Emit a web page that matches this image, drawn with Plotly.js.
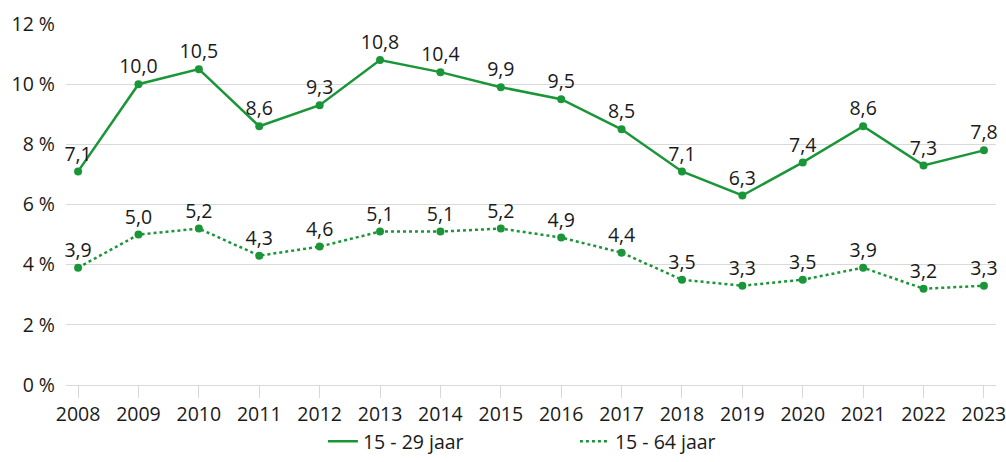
<!DOCTYPE html>
<html>
<head>
<meta charset="utf-8">
<script src="https://cdn.plot.ly/plotly-3.0.1.min.js"></script>
<style>html,body{margin:0;padding:0;background:#fff;}#chart{width:1006px;height:462px;}</style>
</head>
<body>
<div id="chart"></div>
<script>
const years = [2008,2009,2010,2011,2012,2013,2014,2015,2016,2017,2018,2019,2020,2021,2022,2023];
const youth = [7.1,10.0,10.5,8.6,9.3,10.8,10.4,9.9,9.5,8.5,7.1,6.3,7.4,8.6,7.3,7.8];
const total = [3.9,5.0,5.2,4.3,4.6,5.1,5.1,5.2,4.9,4.4,3.5,3.3,3.5,3.9,3.2,3.3];
const seriesNames = ['15 - 29 jaar','15 - 64 jaar'];
const yTicks = [0,2,4,6,8,10,12];
const yTickText = yTicks.map(v => v + ' %');

const green = '#1a9639';
const txt = '#1a1a1a';
const grid = '#d9d9d9';
const fnt = {family:'Open Sans, Noto Sans, sans-serif', size:19.5, color:txt};

const traces = [
  {x:years, y:youth, name:seriesNames[0], type:'scatter', mode:'lines',
   line:{color:green,width:2.5}, hoverinfo:'skip'},
  {x:years, y:total, name:seriesNames[1], type:'scatter', mode:'lines',
   line:{color:green,width:2.5,dash:'dot'}, hoverinfo:'skip'},
  {x:years, y:youth, showlegend:false, type:'scatter', mode:'markers+text',
   marker:{color:green,size:8}, texttemplate:'%{y:.1f}', textposition:'top center', textfont:fnt, cliponaxis:false},
  {x:years, y:total, showlegend:false, type:'scatter', mode:'markers+text',
   marker:{color:green,size:8}, texttemplate:'%{y:.1f}', textposition:'top center', textfont:fnt, cliponaxis:false}
];

const xr = [2007.8, 2023.2];
const layout = {
  width:1006, height:462,
  margin:{l:66, r:10, t:24, b:77, autoexpand:false},
  paper_bgcolor:'#fff', plot_bgcolor:'#fff',
  separators:',.',
  font:fnt,
  showlegend:true,
  legend:{orientation:'h', x:0.321, xanchor:'left', xref:'container', yref:'container', y:0.002, yanchor:'bottom',
    font:fnt, entrywidth:207, tracegroupgap:0},
  xaxis:{range:xr, tickvals:years, ticktext:years.map(String), showgrid:false, zeroline:false,
    showline:true, linecolor:grid, linewidth:1, ticks:'outside', ticklen:12, tickcolor:grid, tickwidth:1,
    tickfont:fnt, ticklabeloverflow:'allow', fixedrange:true},
  xaxis2:{range:xr, tickvals:years, overlaying:'x', anchor:'y', side:'bottom', showgrid:false, zeroline:false,
    showline:false, ticks:'inside', ticklen:12, tickcolor:grid, tickwidth:1, showticklabels:false},
  yaxis:{range:[0,12], tickvals:yTicks, ticktext:yTickText, showgrid:true, gridcolor:grid, gridwidth:1,
    zeroline:false, showline:false, ticks:'', tickfont:fnt, ticklabelstandoff:10}
};

Plotly.newPlot('chart', traces, layout, {displayModeBar:false, staticPlot:true});
</script>
</body>
</html>
